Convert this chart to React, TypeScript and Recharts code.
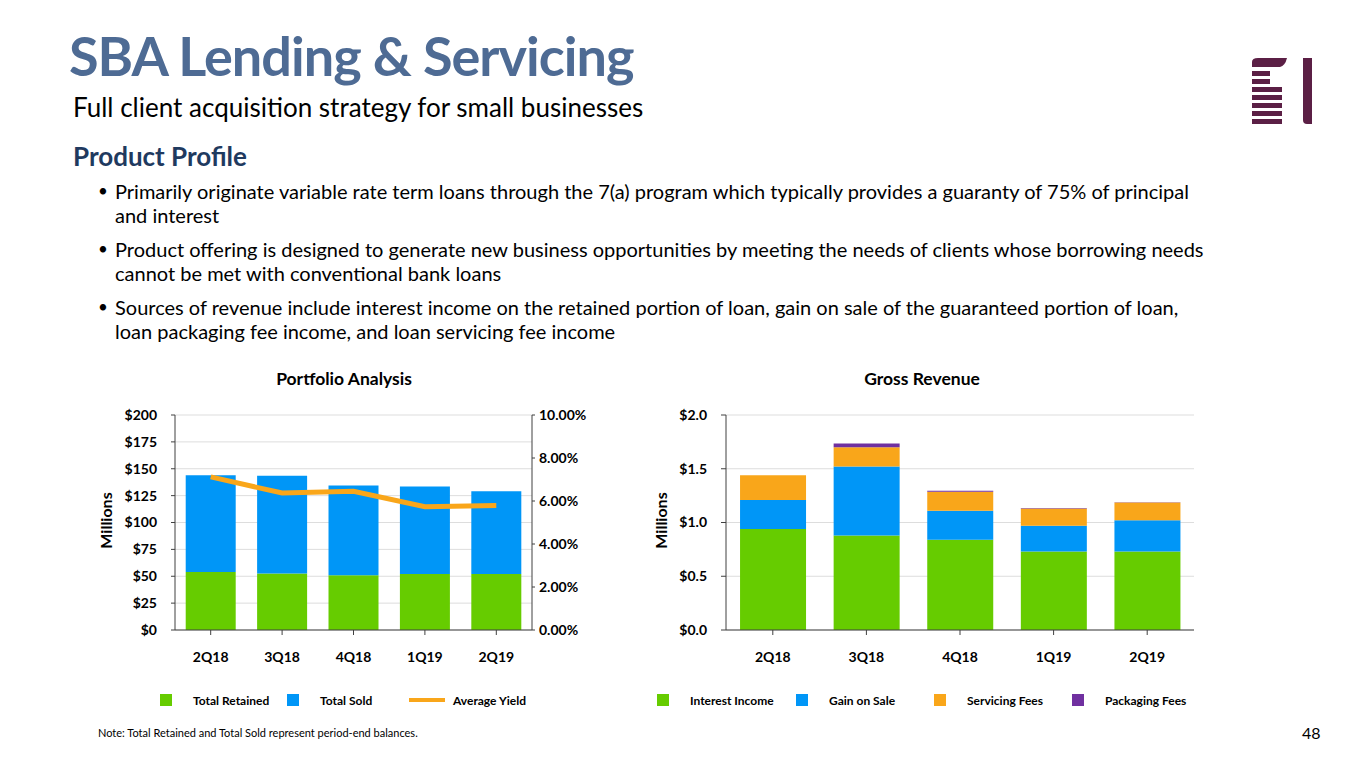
import React from 'react'
import {
  ComposedChart,
  BarChart,
  Bar,
  Line,
  XAxis,
  YAxis,
  CartesianGrid
} from 'recharts'

// quarters shared by both charts
const quarters = ['2Q18', '3Q18', '4Q18', '1Q19', '2Q19']

// Portfolio Analysis ($ millions, period-end)
const totalRetained = [54, 52.5, 51, 52, 52]
const totalSold = [90, 91, 83.5, 81.5, 77]
const averageYield = [7.12, 6.37, 6.45, 5.73, 5.79]
const portfolioTicks = [0, 25, 50, 75, 100, 125, 150, 175, 200]
const yieldTicks = [0, 2, 4, 6, 8, 10]

// Gross Revenue ($ millions)
const interestIncome = [0.94, 0.88, 0.84, 0.73, 0.73]
const gainOnSale = [0.27, 0.64, 0.27, 0.24, 0.29]
const servicingFees = [0.23, 0.18, 0.175, 0.16, 0.165]
const packagingFees = [0, 0.035, 0.01, 0.005, 0.003]
const revenueTicks = [0, 0.5, 1, 1.5, 2]

const bullets = [
  [
    'Primarily originate variable rate term loans through the 7(a) program which typically provides a guaranty of 75% of principal',
    'and interest'
  ],
  [
    'Product offering is designed to generate new business opportunities by meeting the needs of clients whose borrowing needs',
    'cannot be met with conventional bank loans'
  ],
  [
    'Sources of revenue include interest income on the retained portion of loan, gain on sale of the guaranteed portion of loan,',
    'loan packaging fee income, and loan servicing fee income'
  ]
]

const GREEN = '#66CC00'
const BLUE = '#0096F7'
const ORANGE = '#F9A61A'
const PURPLE = '#7030A0'
const GRID = '#DDDDDD'
const AXIS = '#404040'
const FONT = 'Lato, "Open Sans", sans-serif'

const portfolioData = quarters.map((q, i) => ({
  quarter: q,
  retained: totalRetained[i],
  sold: totalSold[i],
  yield: averageYield[i]
}))

const revenueData = quarters.map((q, i) => ({
  quarter: q,
  interest: interestIncome[i],
  gain: gainOnSale[i],
  servicing: servicingFees[i],
  packaging: packagingFees[i]
}))

const tickStyle = { fontSize: 14, fontWeight: 700, fill: '#000', fontFamily: FONT }

function Logo() {
  const c = '#5B1F45'
  const bars = [
    { y: 71, w: 18 },
    { y: 79, w: 18 },
    { y: 87, w: 30 },
    { y: 95, w: 30 },
    { y: 103, w: 30 },
    { y: 111, w: 30 },
    { y: 119, w: 30 }
  ]
  return (
    <svg width={1365} height={768} style={{ position: 'absolute', left: 0, top: 0 }}>
      <path d="M1252 67 L1252 62 Q1252 58 1258 58 L1287 58 Q1285 66 1280 67 Z" fill={c} />
      {bars.map((b) => (
        <rect key={b.y} x={1252} y={b.y} width={b.w} height={5} fill={c} />
      ))}
      <path d="M1303 58 L1312 58 L1312 124 L1307 124 Q1303 124 1303 120 Z" fill={c} />
    </svg>
  )
}

function LegendItem({ x, color, label, line }: { x: number; color: string; label: string; line?: boolean }) {
  return (
    <div style={{ position: 'absolute', left: x, top: 692, height: 16, display: 'flex', alignItems: 'center' }}>
      {line ? (
        <div style={{ width: 36, height: 4, background: color, marginRight: 8 }} />
      ) : (
        <div style={{ width: 12, height: 12, background: color, marginRight: 21 }} />
      )}
      <span style={{ fontSize: 12, fontWeight: 700, color: '#000' }}>{label}</span>
    </div>
  )
}

function Millions({ x }: { x: number }) {
  return (
    <div
      style={{
        position: 'absolute',
        left: x - 40,
        top: 511,
        width: 80,
        textAlign: 'center',
        fontSize: 16,
        fontWeight: 700,
        transform: 'rotate(-90deg)'
      }}
    >
      Millions
    </div>
  )
}

export default function App() {
  return (
    <div
      style={{
        position: 'absolute',
        left: 0,
        top: 0,
        width: 1365,
        height: 768,
        background: '#fff',
        fontFamily: FONT,
        overflow: 'hidden'
      }}
    >
      <Logo />
      <div
        style={{
          position: 'absolute',
          left: 69,
          top: 24,
          fontSize: 54,
          letterSpacing: -1,
          fontWeight: 700,
          color: '#4E6B94',
          lineHeight: 1.2,
          whiteSpace: 'nowrap'
        }}
      >
        SBA Lending &amp; Servicing
      </div>
      <div style={{ position: 'absolute', left: 73, top: 92, fontSize: 26, color: '#000', lineHeight: 1.2, whiteSpace: 'nowrap' }}>
        Full client acquisition strategy for small businesses
      </div>
      <div style={{ position: 'absolute', left: 73, top: 141, fontSize: 26, fontWeight: 700, color: '#1F3A5F', lineHeight: 1.2 }}>
        Product Profile
      </div>

      {bullets.map((lines, i) => (
        <div key={i}>
          <div style={{ position: 'absolute', left: 98, top: 179 + i * 58, fontSize: 17, lineHeight: '24px' }}>•</div>
          {lines.map((t, j) => (
            <div
              key={j}
              style={{ position: 'absolute', left: 115, top: 179 + i * 58 + j * 24, fontSize: 20, lineHeight: '24px', whiteSpace: 'nowrap' }}
            >
              {t}
            </div>
          ))}
        </div>
      ))}

      <div style={{ position: 'absolute', left: 194, width: 300, top: 368, textAlign: 'center', fontSize: 17.5, fontWeight: 700 }}>
        Portfolio Analysis
      </div>
      <div style={{ position: 'absolute', left: 772, width: 300, top: 368, textAlign: 'center', fontSize: 17.5, fontWeight: 700 }}>
        Gross Revenue
      </div>

      <Millions x={105} />
      <Millions x={660} />

      <div style={{ position: 'absolute', left: 90, top: 400 }}>
        <ComposedChart
          width={520}
          height={270}
          data={portfolioData}
          margin={{ top: 15, right: 0, left: 0, bottom: 0 }}
          barCategoryGap="15%"
        >
          <CartesianGrid yAxisId="left" vertical={false} stroke={GRID} />
          <XAxis
            dataKey="quarter"
            height={40}
            stroke={AXIS}
            tickSize={5}
            tickMargin={17}
            tick={tickStyle}
          />
          <YAxis
            yAxisId="left"
            width={85}
            domain={[0, 200]}
            ticks={portfolioTicks}
            tickFormatter={(v) => `$${v}`}
            stroke={AXIS}
            tickSize={4}
            tickMargin={14}
            tick={tickStyle}
            interval={0}
          />
          <YAxis
            yAxisId="right"
            orientation="right"
            width={78}
            domain={[0, 10]}
            ticks={yieldTicks}
            tickFormatter={(v) => `${v.toFixed(2)}%`}
            stroke={AXIS}
            tickSize={3}
            tickMargin={4}
            tick={{ ...tickStyle, textAnchor: 'start' }}
            interval={0}
          />
          <Bar yAxisId="left" dataKey="retained" stackId="p" fill={GREEN} isAnimationActive={false} />
          <Bar yAxisId="left" dataKey="sold" stackId="p" fill={BLUE} isAnimationActive={false} />
          <Line
            yAxisId="right"
            type="linear"
            dataKey="yield"
            stroke={ORANGE}
            strokeWidth={5}
            dot={false}
            isAnimationActive={false}
          />
        </ComposedChart>
      </div>

      <div style={{ position: 'absolute', left: 640, top: 400 }}>
        <BarChart
          width={560}
          height={270}
          data={revenueData}
          margin={{ top: 15, right: 6, left: 0, bottom: 0 }}
          barCategoryGap="15%"
        >
          <CartesianGrid vertical={false} stroke={GRID} />
          <XAxis
            dataKey="quarter"
            height={40}
            stroke={AXIS}
            tickSize={5}
            tickMargin={17}
            tick={tickStyle}
          />
          <YAxis
            width={86}
            domain={[0, 2]}
            ticks={revenueTicks}
            tickFormatter={(v) => `$${v.toFixed(1)}`}
            stroke={AXIS}
            tickSize={5}
            tickMargin={14}
            tick={tickStyle}
            interval={0}
          />
          <Bar dataKey="interest" stackId="r" fill={GREEN} isAnimationActive={false} />
          <Bar dataKey="gain" stackId="r" fill={BLUE} isAnimationActive={false} />
          <Bar dataKey="servicing" stackId="r" fill={ORANGE} isAnimationActive={false} />
          <Bar dataKey="packaging" stackId="r" fill={PURPLE} isAnimationActive={false} />
        </BarChart>
      </div>

      <LegendItem x={160} color={GREEN} label="Total Retained" />
      <LegendItem x={287} color={BLUE} label="Total Sold" />
      <LegendItem x={409} color={ORANGE} label="Average Yield" line />
      <LegendItem x={657} color={GREEN} label="Interest Income" />
      <LegendItem x={796} color={BLUE} label="Gain on Sale" />
      <LegendItem x={934} color={ORANGE} label="Servicing Fees" />
      <LegendItem x={1072} color={PURPLE} label="Packaging Fees" />

      <div style={{ position: 'absolute', left: 98, top: 726, fontSize: 11 }}>
        Note: Total Retained and Total Sold represent period-end balances.
      </div>
      <div style={{ position: 'absolute', left: 1302, top: 723, fontSize: 16 }}>48</div>
    </div>
  )
}
